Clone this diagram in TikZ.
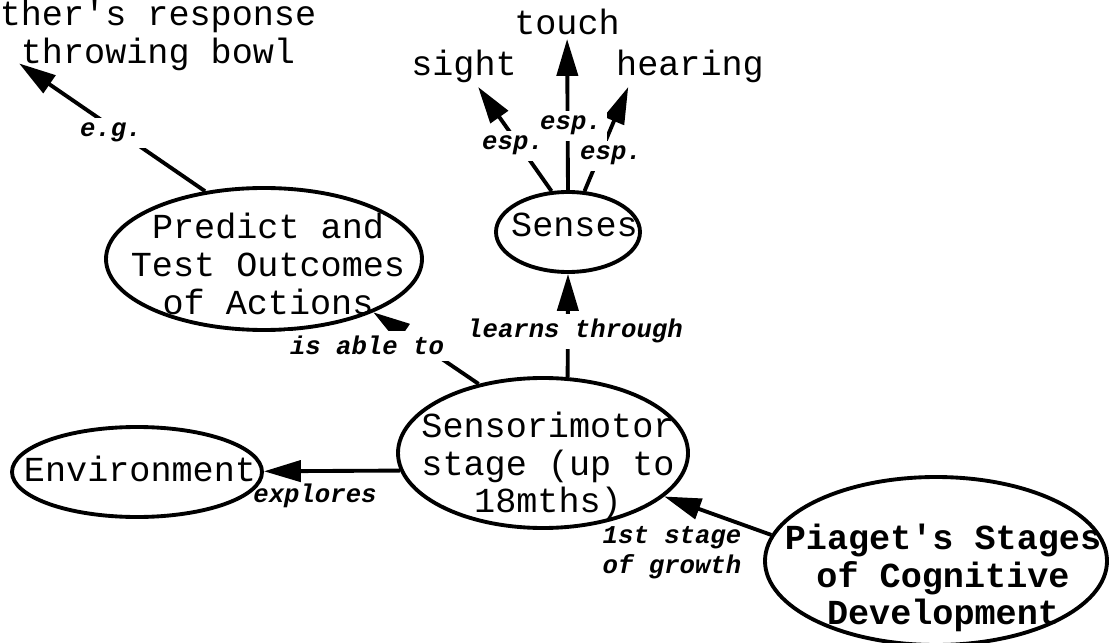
\documentclass[tikz,border=0pt]{standalone}
\usepackage{fontspec}
\newfontfamily\mapfont{Liberation Mono}
\usetikzlibrary{arrows.meta, shapes.geometric, positioning}

\tikzset{
	concept/.style={draw, ellipse, inner sep=0pt},
	ctext/.style={font=\mapfont\fontsize{20pt}{21.5pt}\selectfont, align=center, inner sep=1pt},
	cbold/.style={ctext, font=\mapfont\bfseries\fontsize{20pt}{21.5pt}\selectfont},
	linklabel/.style={font=\mapfont\bfseries\itshape\fontsize{14.6pt}{17pt}\selectfont, align=center, inner sep=3pt},
	gaplabel/.style={linklabel, fill=white}
}

\begin{document}
\begin{tikzpicture}[>={Triangle[length=21pt, width=12pt]}, line width=2.2pt]
	\useasboundingbox (0cm, 0cm) rectangle (22.2cm, 12.84cm);
	\clip (0cm, 0cm) rectangle (22.2cm, 12.84cm);

	\draw (3.16cm, 12.13cm) node[ctext] (mother) {ther's response\\throwing bowl}
	(11.34cm, 12.14cm) node[ctext, anchor=base] (touch) {touch}
	(9.28cm, 11.32cm) node[ctext, anchor=base] (sight) {sight}
	(13.80cm, 11.32cm) node[ctext, anchor=base] (hearing) {hearing}
	(5.28cm, 7.66cm) node[concept, minimum width=6.32cm, minimum height=2.84cm,
		label={[ctext, xshift=0.08cm, yshift=-0.10cm]center:Predict and\\Test Outcomes\\of Actions}] (predict) {}
	(11.36cm, 8.20cm) node[concept, minimum width=2.88cm, minimum height=1.60cm,
		label={[ctext, xshift=0.13cm, yshift=0.14cm]center:Senses}] (senses) {}
	(10.86cm, 3.78cm) node[concept, minimum width=5.80cm, minimum height=3.00cm,
		label={[ctext, xshift=0.10cm, yshift=-0.26cm]center:Sensorimotor\\stage (up to\\18mths)}] (sensori) {}
	(2.74cm, 3.40cm) node[concept, minimum width=5.00cm, minimum height=1.80cm,
		label={[ctext, xshift=0.06cm, yshift=0.06cm]center:Environment}] (environ) {}
	(18.72cm, 1.62cm) node[concept, minimum width=6.84cm, minimum height=3.36cm,
		label={[cbold, xshift=0.14cm, yshift=-0.34cm]center:Piaget's Stages\\of Cognitive\\Development}] (piaget) {};

	\draw[->] (predict.131) -- ([xshift=0.46cm, yshift=0.22cm]mother.south west);
	\draw[->] (senses.112) -- (sight);
	\draw[->] (senses.90) -- (touch);
	\draw[->] (senses.68) -- (hearing.198);
	\draw[->] (sensori.72) -- (senses.270);
	\draw[->] (sensori.133) -- (predict.334);
	\draw[->] (sensori.187) -- (environ);
	\draw[->] (piaget.171) -- (sensori);

	\draw (2.22cm, 10.10cm) node[gaplabel, anchor=base] (eg) {e.g.}
	(10.26cm, 9.84cm) node[gaplabel, anchor=base] (espsight) {esp.}
	(11.42cm, 10.24cm) node[gaplabel, anchor=base] (esptouch) {esp.}
	(12.22cm, 9.64cm) node[gaplabel, anchor=base] (esphearing) {esp.}
	(11.50cm, 6.08cm) node[gaplabel, anchor=base] (learns) {learns through}
	(7.34cm, 5.74cm) node[gaplabel, anchor=base] (able) {is able to}
	(6.30cm, 2.80cm) node[linklabel, anchor=base] (explores) {explores}
	(13.44cm, 1.78cm) node[linklabel] (growth) {1st stage\\of growth};
\end{tikzpicture}
\end{document}
